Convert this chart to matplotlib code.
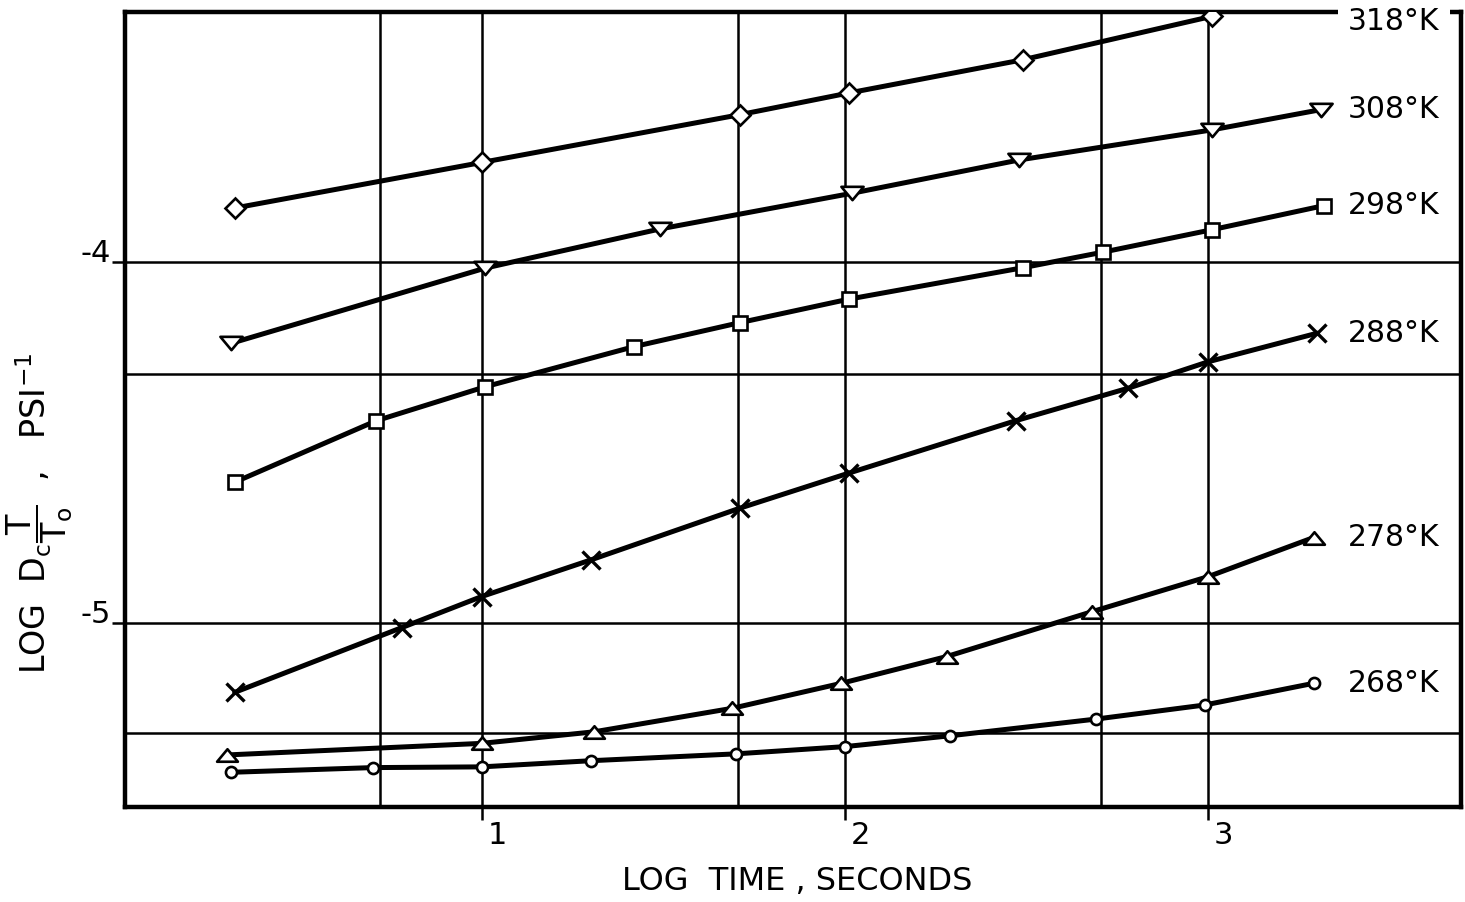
import numpy as np
import matplotlib
matplotlib.use("Agg")
import matplotlib.pyplot as plt
from matplotlib.path import Path
from matplotlib.transforms import ScaledTranslation

plt.rcParams['font.family'] = ['DejaVu Sans']
plt.rcParams['mathtext.fontset'] = 'dejavusans'

# log time (s) and log(Dc*T/To) for each temperature
x318 = [0.32, 1.00, 1.71, 2.01, 2.49, 3.01]
y318 = [-3.852, -3.726, -3.594, -3.534, -3.442, -3.322]

x308 = [0.31, 1.01, 1.49, 2.02, 2.48, 3.01, 3.31]
y308 = [-4.226, -4.018, -3.910, -3.811, -3.719, -3.636, -3.580]

x298 = [0.32, 0.71, 1.01, 1.42, 1.71, 2.01, 2.49, 2.71, 3.01, 3.32]
y298 = [-4.610, -4.440, -4.346, -4.235, -4.169, -4.104, -4.017, -3.974, -3.912, -3.845]

x288 = [0.32, 0.78, 1.00, 1.30, 1.71, 2.01, 2.47, 2.78, 3.00, 3.30]
y288 = [-5.191, -5.012, -4.926, -4.825, -4.682, -4.585, -4.440, -4.350, -4.277, -4.198]

x278 = [0.30, 1.00, 1.31, 1.69, 1.99, 2.28, 2.68, 3.00, 3.29]
y278 = [-5.364, -5.332, -5.300, -5.235, -5.166, -5.092, -4.968, -4.871, -4.763]

x268 = [0.31, 0.70, 1.00, 1.30, 1.70, 2.00, 2.29, 2.69, 2.99, 3.29]
y268 = [-5.412, -5.399, -5.397, -5.380, -5.361, -5.341, -5.311, -5.265, -5.226, -5.166]

temps = ['318°K', '308°K', '298°K', '288°K', '278°K', '268°K']

xticks = [1, 2, 3]
xgrid_minor = [0.72, 1.705, 2.705]
yticks = [-4, -5]
ygrid_minor = [-4.31, -5.303]

# flat triangles like the hand drawn ones
tri_down = Path([(-1, 0.6), (1, 0.6), (0, -0.6), (-1, 0.6)], closed=True)
tri_up = Path([(-1, -0.6), (1, -0.6), (0, 0.6), (-1, -0.6)], closed=True)

series = [
    (x318, y318, 'D', 10),
    (x308, y308, tri_down, 16),
    (x298, y298, 's', 10),
    (x288, y288, 'x', 12.5),
    (x278, y278, tri_up, 15),
    (x268, y268, 'o', 8),
]

fig = plt.figure(figsize=(14.65, 9.02), dpi=100)
ax = fig.add_axes([0.0853, 0.1057, 0.9120, 0.881])

for (xs, ys, mk, ms), lab in zip(series, temps):
    ax.plot(xs, ys, color='black', lw=3.6, marker=mk, ms=ms,
            mfc='white', mec='black', mew=1.9 if mk != 'x' else 2.4,
            zorder=3, solid_joinstyle='round', solid_capstyle='round')
    # 318 label sits a touch lower than its last point, breaking the frame
    ly = ys[-1] - 0.015 if lab == '318°K' else ys[-1]
    ax.text(3.385, ly, lab, fontsize=21.5, ha='left', va='center',
            zorder=5, clip_on=False,
            bbox=dict(boxstyle='square,pad=0.35', fc='white', ec='none'))

ax.set_xlim(0.018, 3.696)
ax.set_ylim(-5.507, -3.31)

ax.set_xticks(xticks)
ax.set_xticklabels([str(t) for t in xticks])
ax.set_xticks(xgrid_minor, minor=True)
ax.set_yticks(yticks)
ax.set_yticklabels(['-4', '-5'])
ax.set_yticks(ygrid_minor, minor=True)

ax.tick_params(axis='both', which='major', length=9.5, width=1.8,
               direction='out', labelsize=22, pad=1)
ax.tick_params(axis='both', which='minor', length=0)
ax.grid(True, which='both', color='black', lw=1.8)
ax.set_axisbelow(True)

for sp in ax.spines.values():
    sp.set_linewidth(3.2)
    sp.set_zorder(2.6)

# labels sit just right of the x ticks and just above the y grid lines
for t in ax.get_xticklabels():
    t.set_horizontalalignment('left')
    t.set_transform(t.get_transform() + ScaledTranslation(4 / 72, 0, fig.dpi_scale_trans))
for t in ax.get_yticklabels():
    t.set_verticalalignment('baseline')

fig.text(797 / 1465, 1 - 881 / 902, 'LOG  TIME , SECONDS', fontsize=23,
         ha='center', va='center')
fig.text(40 / 1465, 1 - 513 / 902,
         r'LOG  $\mathrm{D_c}\dfrac{\mathrm{T}}{\mathrm{T_o}}$  ,   PSI$^{-1}$',
         fontsize=24, rotation=90, ha='center', va='center')

fig.savefig('out.png', dpi=100, facecolor='white')
